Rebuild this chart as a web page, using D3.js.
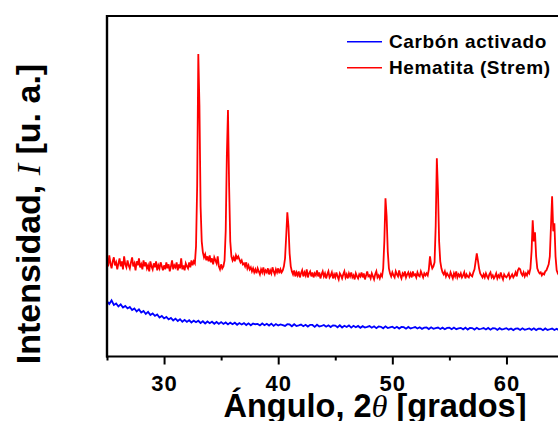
<!DOCTYPE html>
<html>
<head>
<meta charset="utf-8">
<script src="https://cdn.jsdelivr.net/npm/d3@7"></script>
<style>
  html, body { margin: 0; padding: 0; background: #fff; overflow: hidden; }
  svg { display: block; }
  text { font-family: "Liberation Sans", Arial, sans-serif; font-weight: bold; fill: #000; }
</style>
</head>
<body>
<svg id="chart" width="558" height="421"></svg>
<script>
// ---- Data (2θ in degrees, intensity in arbitrary units) ----
const redStart = 25.0, redStep = 0.1;   // sampling grid of the hematite pattern
const hematiteIntensity = [
  960, 900,1010, 930, 880, 950, 990, 910, 940, 870,   // 25
  930, 980, 900, 950, 870,1000, 920, 890, 960, 910,   // 26
  880, 940, 990, 900, 930, 860, 950, 910, 980, 890,   // 27
  920, 870, 960, 900, 940, 880, 910, 850, 950, 900,   // 28
  870, 930, 890, 950, 860, 910, 880, 940, 900, 860,   // 29
  910, 870, 940, 880, 920, 850, 900, 960, 870, 910,   // 30
  890, 940, 860, 920, 880, 980, 870, 910, 860, 930,   // 31
  900, 880, 940, 890, 960, 910, 950, 930,1100,1700,   // 32
 3020,2500,1500,1150,1040, 990,1020, 960,1000, 950,   // 33
 1010, 940, 980, 920, 990, 960, 930,1000, 900, 870,   // 34
  920, 880, 900, 960,1250,2000,2460,1700,1150,1000,   // 35
  960, 990, 950,1010, 980,1000, 970, 940, 960, 920,   // 36
  930, 900, 940, 880, 910, 870, 890, 850, 880, 840,   // 37
  870, 830, 880, 850, 820, 870, 840, 890, 830, 860,   // 38
  840, 880, 820, 860, 830, 890, 850, 820, 870, 840,   // 39
  880, 830, 870, 840, 860, 900, 980,1200,1440,1300,   // 40
 1030, 900, 850, 820, 860, 800, 840, 810, 850, 790,   // 41
  830, 860, 800, 840, 810, 870, 790, 830, 850, 800,   // 42
  840, 790, 830, 810, 860, 800, 840, 780, 820, 850,   // 43
  800, 830, 780, 820, 850, 790, 810, 840, 780, 820,   // 44
  790, 840, 800, 770, 830, 810, 780, 820, 850, 790,   // 45
  820, 780, 830, 800, 840, 790, 810, 770, 830, 800,   // 46
  780, 820, 800, 840, 790, 830, 770, 810, 850, 800,   // 47
  810, 780, 830, 800, 770, 820, 850, 790, 810, 780,   // 48
  820, 800, 880,1150,1580,1400,1050, 880, 830, 800,   // 49
  840, 810, 790, 850, 820, 800, 860, 810, 780, 830,   // 50
  810, 850, 790, 820, 840, 800, 830, 790, 850, 810,   // 51
  820, 790, 840, 810, 800, 850, 820, 790, 830, 810,   // 52
  830, 810, 870,1000, 920, 880, 900, 940,1300,1980,   // 53
 1650,1150, 950, 880, 840, 820, 850, 800, 830, 810,   // 54
  790, 840, 810, 780, 830, 800, 850, 790, 820, 800,   // 55
  830, 790, 810, 840, 780, 820, 800, 790, 830, 810,   // 56
  800, 840, 870, 950,1030, 960, 880, 830, 810, 790,   // 57
  820, 790, 830, 800, 780, 820, 840, 790, 810, 780,   // 58
  800, 830, 780, 810, 790, 840, 800, 770, 820, 800,   // 59
  790, 810, 830, 780, 800, 820, 790, 810, 840, 800,   // 60
  860, 880, 870, 830, 810, 840, 800, 830, 810, 850,   // 61
  830, 880,1050,1360,1150,1240,1000, 880, 850, 830,   // 62
  840, 810, 830, 820, 850, 860, 890, 920,1000,1300,   // 63
 1600,1250,1330,1000, 860, 830, 810, 840, 800, 820,   // 64
  810, 830, 800, 820, 790, 810                        // 65
];

const blueStart = 25.0, blueStep = 0.2;  // sampling grid of the activated carbon pattern
const carbonIntensity = [
  550, 525, 560, 515, 530, 500, 520, 490, 505, 480,   // 25-26.8
  495, 465, 480, 450, 470, 440, 455, 425, 445, 415,   // 27-28.8
  430, 405, 420, 390, 405, 380, 395, 370, 385, 360,   // 29-30.8
  378, 355, 372, 347, 366, 345, 362, 340, 358, 343,   // 31-32.8
  357, 335, 352, 330, 350, 332, 347, 327, 345, 325,   // 33
  343, 325, 340, 320, 338, 322, 337, 317, 334, 320,   // 35
  333, 314, 331, 312, 329, 322, 325, 310, 330, 312,   // 37
  327, 309, 328, 306, 324, 310, 320, 314, 305, 322,   // 39
  320, 302, 322, 304, 311, 319, 303, 317, 299, 316,   // 41
  315, 296, 317, 299, 305, 315, 297, 312, 294, 311,   // 43
  309, 292, 312, 290, 307, 294, 310, 288, 306, 292,   // 45
  305, 287, 303, 289, 296, 304, 287, 301, 283, 300,   // 47
  297, 282, 301, 284, 291, 298, 282, 296, 279, 295,   // 49
  293, 278, 295, 280, 287, 294, 279, 292, 276, 288,   // 51
  290, 274, 291, 276, 284, 289, 275, 288, 272, 285,   // 53
  287, 272, 289, 273, 281, 286, 271, 288, 269, 285,   // 55
  284, 269, 286, 271, 277, 284, 270, 285, 268, 282,   // 57
  281, 266, 283, 269, 275, 282, 268, 279, 264, 278,   // 59
  280, 265, 282, 267, 273, 280, 266, 281, 264, 278,   // 61
  277, 263, 280, 265, 272, 279, 264, 277, 261, 276,   // 63
  275, 268, 273                                       // 65
];

const majorTicks = [30, 40, 50, 60];
const minorTicks = [25, 35, 45, 55];
const seriesNames = ["Carbón activado", "Hematita (Strem)"];
const seriesColors = ["#0000ff", "#ff0000"];

// ---- Layout ----
const svg = d3.select("#chart");
const plotLeft = 107, plotTop = 16, plotBottom = 356.5;
const pxPerDeg = 11.413;
const xMin = 25, xMax = 70;
const plotRight = plotLeft + (xMax - xMin) * pxPerDeg;

const x = d3.scaleLinear().domain([xMin, xMax]).range([plotLeft, plotRight]);
const y = d3.scaleLinear().domain([0, 3400]).range([plotBottom, plotTop]);

const red = hematiteIntensity.map((v, i) => ({ a: redStart + i * redStep, v }));
const blue = carbonIntensity.map((v, i) => ({ a: blueStart + i * blueStep, v }));

svg.append("defs").append("clipPath").attr("id", "plotclip")
  .append("rect").attr("x", plotLeft).attr("y", plotTop)
  .attr("width", plotRight - plotLeft).attr("height", plotBottom - plotTop);

const line = d3.line().x(d => x(d.a)).y(d => y(d.v));

const gData = svg.append("g").attr("clip-path", "url(#plotclip)");
gData.append("path").datum(blue).attr("d", line)
  .attr("fill", "none").attr("stroke", seriesColors[0]).attr("stroke-width", 1.8);
gData.append("path").datum(red).attr("d", line)
  .attr("fill", "none").attr("stroke", seriesColors[1]).attr("stroke-width", 1.8);

// ---- Axes ----
const xAxis = svg.append("g").attr("transform", `translate(0,${plotBottom})`)
  .call(d3.axisBottom(x).tickValues(majorTicks).tickSize(8).tickFormat(d3.format("d")));
xAxis.select(".domain").remove();
xAxis.selectAll(".tick line").attr("stroke", "#000").attr("stroke-width", 2);
xAxis.selectAll(".tick text").attr("y", 34.5).attr("dy", 0)
  .style("font-size", "22px").style("font-family", "'Liberation Sans', Arial, sans-serif")
  .style("font-weight", "bold").attr("letter-spacing", "1px");

const xMinor = svg.append("g").attr("transform", `translate(0,${plotBottom})`)
  .call(d3.axisBottom(x).tickValues(minorTicks).tickSize(4).tickFormat(""));
xMinor.select(".domain").remove();
xMinor.selectAll(".tick line").attr("stroke", "#000").attr("stroke-width", 2);

// frame
svg.append("line").attr("x1", plotLeft - 1).attr("x2", plotRight).attr("y1", plotBottom).attr("y2", plotBottom)
  .attr("stroke", "#000").attr("stroke-width", 2.2);
svg.append("line").attr("x1", plotLeft - 1).attr("x2", plotRight).attr("y1", plotTop).attr("y2", plotTop)
  .attr("stroke", "#000").attr("stroke-width", 2.2);
svg.append("line").attr("x1", plotLeft).attr("x2", plotLeft).attr("y1", plotTop - 1).attr("y2", plotBottom + 1)
  .attr("stroke", "#000").attr("stroke-width", 2.4);
svg.append("line").attr("x1", plotRight).attr("x2", plotRight).attr("y1", plotTop - 1).attr("y2", plotBottom + 1)
  .attr("stroke", "#000").attr("stroke-width", 2.4);

// ---- Axis titles ----
const xt = svg.append("text").attr("x", 375).attr("y", 417).attr("text-anchor", "middle")
  .style("font-size", "32.5px");
xt.append("tspan").text("Ángulo, 2");
xt.append("tspan").text("θ").style("font-family", "'Liberation Serif', 'Times New Roman', serif")
  .style("font-style", "italic").style("font-weight", "normal");
xt.append("tspan").text(" [grados]");

const yt = svg.append("text").attr("transform", "translate(40,214) rotate(-90)")
  .attr("text-anchor", "middle").style("font-size", "34px");
yt.append("tspan").text("Intensidad, ");
yt.append("tspan").text("I").style("font-family", "'Liberation Serif', 'Times New Roman', serif")
  .style("font-style", "italic").style("font-weight", "normal");
yt.append("tspan").text(" [u. a.]");

// ---- Legend ----
const legend = svg.append("g");
seriesNames.forEach((name, i) => {
  const ly = 41.7 + i * 26;
  legend.append("line").attr("x1", 347).attr("x2", 382).attr("y1", ly).attr("y2", ly)
    .attr("stroke", seriesColors[i]).attr("stroke-width", 1.5);
  legend.append("text").attr("x", 389).attr("y", ly + 6).text(name)
    .style("font-size", "19px").attr("letter-spacing", "0.6px");
});
</script>
</body>
</html>
